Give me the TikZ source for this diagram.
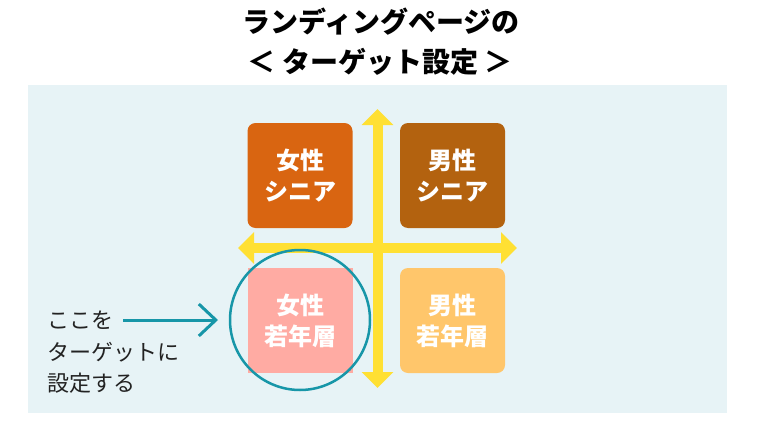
\documentclass[tikz,border=0pt]{standalone}
\usepackage{fontspec}
\newfontfamily\cjk{Noto Sans CJK JP}
\usetikzlibrary{arrows.meta}
\definecolor{bgblue}{HTML}{E7F3F6}
\definecolor{cTL}{HTML}{D96511}
\definecolor{cTR}{HTML}{B3620F}
\definecolor{cBL}{HTML}{FFABA3}
\definecolor{cBR}{HTML}{FFC66B}
\definecolor{axisyellow}{HTML}{FFE033}
\definecolor{teal}{HTML}{1796A8}
\definecolor{darktext}{HTML}{222222}
\tikzset{
  quad/.style={minimum width=105pt, minimum height=105pt, inner sep=0pt, align=center,
    text=white, font=\cjk\bfseries\fontsize{24}{31}\selectfont},
  rquad/.style={quad, rounded corners=8pt},
  axis/.style={draw=axisyellow, line width=10pt,
    {Triangle[width=31pt,length=16pt]}-{Triangle[width=31pt,length=16pt]}},
  side/.style={anchor=base west, inner sep=0pt, text=darktext, font=\cjk\fontsize{22}{31}\selectfont},
  ttl/.style={anchor=base, inner sep=0pt, text=black, font=\cjk\bfseries\fontsize{28}{34}\selectfont}
}
\begin{document}
\begin{tikzpicture}[x=1pt,y=-1pt]
\useasboundingbox (0,0) rectangle (760,428);
\fill[white] (0,0) rectangle (760,428);
\fill[bgblue] (28,85) rectangle (727,413);
% title
\node[ttl] (title1) at (381,33) {ランディングページの};
\node[ttl] (title2) at (380,73) {＜ ターゲット設定 ＞};
% boxes
\node[rquad, fill=cTL] (fs) at (300,175.5) {女性\\シニア};
\node[rquad, fill=cTR] (ms) at (452.5,175.5) {男性\\シニア};
\node[rquad, fill=cBR] (my) at (452.5,320.5) {男性\\若年層};
% axes
\coordinate (vtop) at (377.5,109);
\coordinate (vbot) at (377.5,388);
\coordinate (hl) at (238,248);
\coordinate (hr) at (517,248);
\draw[axis] (hl) -- (hr);
\draw[axis] (vbot) -- (vtop);
\node[quad, fill=cBL] (fy) at (300,320.5) {女性\\若年層};
% circle
\node[draw=teal, line width=2.5pt, circle, minimum size=140pt, inner sep=0pt] (ring) at (300,320) {};
% side text
\node[side] (t1) at (47,328.5) {ここを};
\node[side] (t2) at (47,360.5) {ターゲットに};
\node[side] (t3) at (47,391.5) {設定する};
\coordinate (as) at (123,320);
\coordinate (ae) at (218,320);
\draw[draw=teal, line width=3pt, -{Straight Barb[length=17pt,width=32pt]}] (as) -- (ae);
\end{tikzpicture}
\end{document}
